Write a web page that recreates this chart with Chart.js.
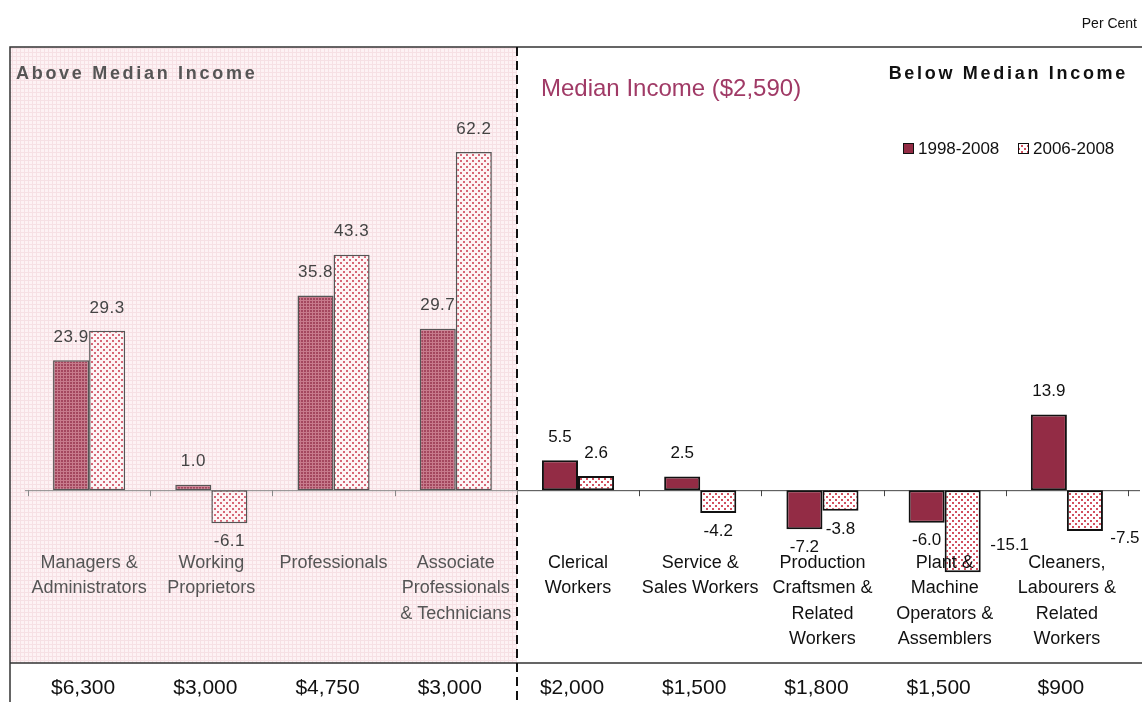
<!DOCTYPE html>
<html>
<head>
<meta charset="utf-8">
<script src="https://cdn.jsdelivr.net/npm/chart.js@4"></script>
<style>
  html, body { margin: 0; padding: 0; background: #fff; }
  #wrap { width: 1142px; height: 702px; position: relative; }
</style>
</head>
<body>
<div id="wrap"><canvas id="incomeChart" width="1142" height="702"></canvas></div>
<script>
// Données du graphique
const categories = [
    ['Managers &', 'Administrators'],
    ['Working', 'Proprietors'],
    ['Professionals'],
    ['Associate', 'Professionals', '& Technicians'],
    ['Clerical', 'Workers'],
    ['Service &', 'Sales Workers'],
    ['Production', 'Craftsmen &', 'Related', 'Workers'],
    ['Plant &', 'Machine', 'Operators &', 'Assemblers'],
    ['Cleaners,', 'Labourers &', 'Related', 'Workers']
];
const medianIncome = ['$6,300', '$3,000', '$4,750', '$3,000', '$2,000', '$1,500', '$1,800', '$1,500', '$900'];
const growth19982008 = [23.9, 1.0, 35.8, 29.7, 5.5, 2.5, -7.2, -6.0, 13.9];
const growth20062008 = [29.3, -6.1, 43.3, 62.2, 2.6, -4.2, -3.8, -15.1, -7.5];
const seriesNames = ['1998-2008', '2006-2008'];
const aboveCount = 4; // les 4 premières catégories sont au-dessus de la médiane

const FONT = '"Liberation Sans", Arial, sans-serif';
const MAROON = '#932c45';

// Motifs (hachures / points)
function makePattern(size, draw) {
    const c = document.createElement('canvas');
    c.width = size; c.height = size;
    const g = c.getContext('2d');
    draw(g);
    return c;
}
const ctx = document.getElementById('incomeChart').getContext('2d');

const pinkBg = ctx.createPattern(makePattern(4, g => {
    g.fillStyle = '#fdf2f4'; g.fillRect(0, 0, 4, 4);
    g.fillStyle = '#f6e0e4'; g.fillRect(0, 0, 4, 1); g.fillRect(0, 0, 1, 4);
}), 'repeat');

const maroonHatch = ctx.createPattern(makePattern(3, g => {
    g.fillStyle = '#a3475e'; g.fillRect(0, 0, 3, 3);
    g.fillStyle = '#c77b8c'; g.fillRect(0, 0, 3, 1); g.fillRect(0, 0, 1, 3);
}), 'repeat');

const dotsWhite = ctx.createPattern(makePattern(6, g => {
    g.fillStyle = '#ffffff'; g.fillRect(0, 0, 6, 6);
    g.fillStyle = '#d2505f'; g.fillRect(1, 1, 2, 2); g.fillRect(4, 4, 2, 2);
}), 'repeat');

const dotsPink = ctx.createPattern(makePattern(6, g => {
    g.fillStyle = '#fdf4f5'; g.fillRect(0, 0, 6, 6);
    g.fillStyle = '#d66676'; g.fillRect(1, 1, 2, 2); g.fillRect(4, 4, 2, 2);
}), 'repeat');

function splitPixel(x) {
    return (x.getPixelForValue(aboveCount - 1) + x.getPixelForValue(aboveCount)) / 2;
}

// Décor : fond rose, cadre, ligne pointillée, ligne du zéro, libellés
const decorPlugin = {
    id: 'decor',
    beforeDraw(chart) {
        const c = chart.ctx;
        const x = chart.scales.x;
        const split = splitPixel(x);
        c.save();
        c.fillStyle = pinkBg;
        c.fillRect(10, 47, split - 10, 663 - 47);
        c.restore();
    },
    beforeDatasetsDraw(chart) {
        const c = chart.ctx;
        const x = chart.scales.x, y = chart.scales.y;
        const split = splitPixel(x);
        const frameLeft = 10, frameTop = 47, tableTop = 663;
        c.save();
        // cadre
        c.strokeStyle = '#333';
        c.lineWidth = 1.5;
        c.beginPath();
        c.moveTo(frameLeft, 702); c.lineTo(frameLeft, frameTop); c.lineTo(1142, frameTop);
        c.moveTo(frameLeft, tableTop); c.lineTo(1142, tableTop);
        c.stroke();
        // ligne du zéro + graduations
        const y0 = y.getPixelForValue(0);
        c.lineWidth = 1;
        c.strokeStyle = '#888';
        c.beginPath();
        c.moveTo(x.left - 3, y0 + 0.5); c.lineTo(split, y0 + 0.5);
        c.stroke();
        c.strokeStyle = '#444';
        c.beginPath();
        c.moveTo(split, y0 + 0.5); c.lineTo(x.right + 12, y0 + 0.5);
        c.stroke();
        for (let i = 0; i <= categories.length; i++) {
            const tx = i === 0 ? x.left : (i === categories.length ? x.right : (x.getPixelForValue(i - 1) + x.getPixelForValue(i)) / 2);
            c.strokeStyle = i <= aboveCount ? '#888' : '#444';
            c.beginPath();
            c.moveTo(Math.round(tx) + 0.5, y0); c.lineTo(Math.round(tx) + 0.5, y0 + 6);
            c.stroke();
        }
        c.restore();
    },
    afterDraw(chart) {
        const c = chart.ctx;
        const x = chart.scales.x;
        const split = splitPixel(x);
        c.save();
        // ligne pointillée de la médiane
        c.strokeStyle = '#111';
        c.lineWidth = 2;
        c.setLineDash([9, 5]);
        c.beginPath();
        c.moveTo(Math.round(split), 47); c.lineTo(Math.round(split), 702);
        c.stroke();
        c.setLineDash([]);

        // étiquettes de valeurs
        c.font = '17px ' + FONT;
        c.textAlign = 'center';
        c.textBaseline = 'middle';
        const special = { '1-7': [47, -45], '1-8': [40, -11] }; // étiquettes déplacées à la main dans l'original
        chart.data.datasets.forEach((ds, di) => {
            const meta = chart.getDatasetMeta(di);
            meta.data.forEach((bar, i) => {
                const v = ds.data[i];
                const txt = v.toFixed(1);
                let lx = bar.x, ly;
                if (v >= 0) ly = bar.y - 23;
                else ly = bar.y + 18;
                const key = di + '-' + i;
                if (special[key]) { lx += special[key][0]; ly += special[key][1]; }
                if (i < aboveCount) {
                    c.fillStyle = '#444';
                    c.letterSpacing = '0.5px';
                } else {
                    c.fillStyle = '#111';
                    c.letterSpacing = '0px';
                }
                c.fillText(txt, lx, ly);
            });
        });
        c.letterSpacing = '0px';

        // revenu médian par catégorie (ligne du tableau)
        c.font = '21px ' + FONT;
        c.fillStyle = '#111';
        medianIncome.forEach((m, i) => {
            c.fillText(m, x.getPixelForValue(i) - 6, 688);
        });

        // textes
        c.textAlign = 'right';
        c.font = '14px ' + FONT;
        c.fillText('Per Cent', 1137, 24);

        c.textAlign = 'left';
        c.font = 'bold 18px ' + FONT;
        c.fillStyle = '#555';
        c.letterSpacing = '2.7px';
        c.fillText('Above Median Income', 16, 74);
        c.fillStyle = '#111';
        c.textAlign = 'right';
        c.fillText('Below Median Income', 1128, 74);
        c.letterSpacing = '0px';

        c.textAlign = 'left';
        c.font = '24px ' + FONT;
        c.fillStyle = '#a03a66';
        c.fillText('Median Income ($2,590)', 541, 89);

        // légende
        c.font = '17px ' + FONT;
        const legendItems = [
            { x: 903, fill: MAROON },
            { x: 1018, fill: dotsWhite }
        ];
        legendItems.forEach((it, k) => {
            c.fillStyle = it.fill;
            c.fillRect(it.x, 143, 11, 11);
            c.strokeStyle = '#111';
            c.lineWidth = 1;
            c.strokeRect(it.x + 0.5, 143.5, 10, 10);
            c.fillStyle = '#111';
            c.fillText(seriesNames[k], it.x + 15, 149);
        });
        c.restore();
    }
};

const chart = new Chart(ctx, {
    type: 'bar',
    data: {
        labels: categories,
        datasets: [
            {
                label: seriesNames[0],
                data: growth19982008,
                backgroundColor: (c) => c.dataIndex < aboveCount ? maroonHatch : MAROON,
                borderColor: (c) => c.dataIndex < aboveCount ? '#555' : '#111',
                borderWidth: (c) => c.dataIndex < aboveCount ? 1.5 : 2,
                borderSkipped: false,
                clip: false
            },
            {
                label: seriesNames[1],
                data: growth20062008,
                backgroundColor: (c) => c.dataIndex < aboveCount ? dotsPink : dotsWhite,
                borderColor: (c) => c.dataIndex < aboveCount ? '#555' : '#111',
                borderWidth: (c) => c.dataIndex < aboveCount ? 1.5 : 2,
                borderSkipped: false,
                clip: false
            }
        ]
    },
    options: {
        responsive: false,
        animation: false,
        events: [],
        layout: { padding: { left: 28, right: 14, top: 47, bottom: 0 } },
        datasets: { bar: { categoryPercentage: 0.59, barPercentage: 1.0 } },
        plugins: {
            legend: { display: false },
            tooltip: { enabled: false }
        },
        scales: {
            y: {
                display: false,
                min: -11,
                max: 81.5
            },
            x: {
                grid: { display: false },
                border: { display: false },
                afterFit: (scale) => { scale.height = 152; },
                ticks: {
                    z: 1,
                    maxRotation: 0,
                    autoSkip: false,
                    padding: -7,
                    color: (c) => c.index < aboveCount ? '#555' : '#111',
                    font: { family: FONT, size: 18, lineHeight: 1.39 }
                }
            }
        }
    },
    plugins: [decorPlugin]
});
</script>
</body>
</html>
